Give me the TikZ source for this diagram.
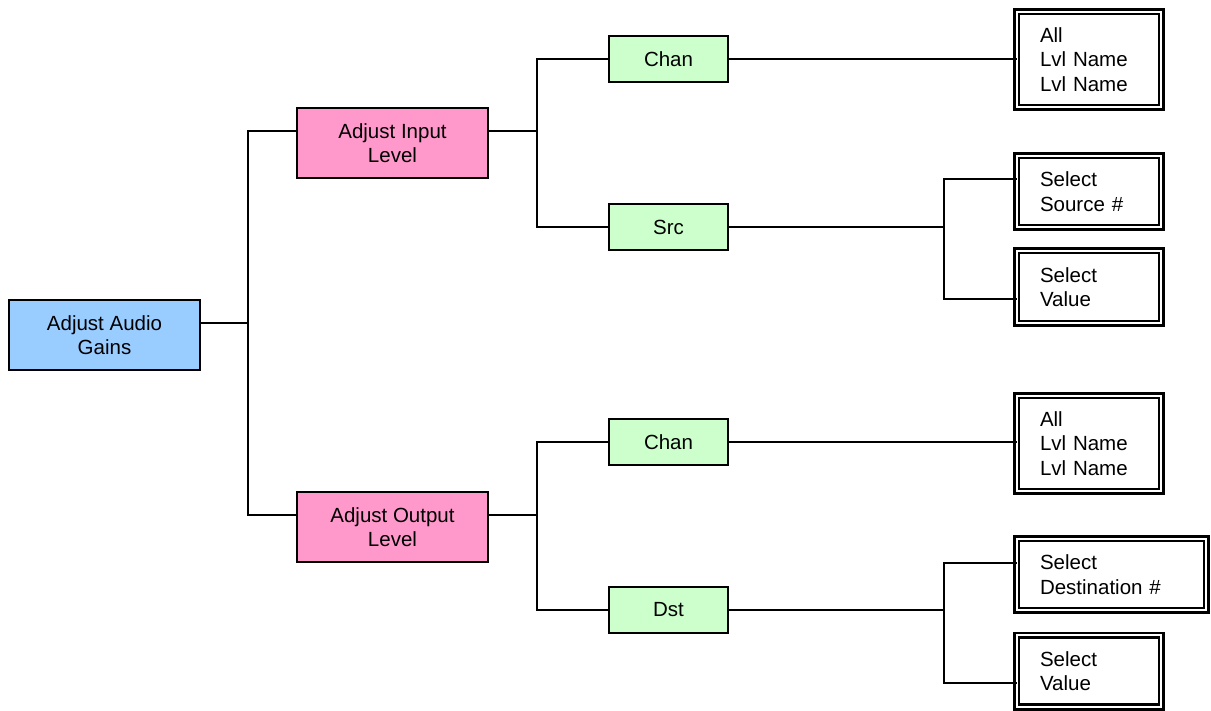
\documentclass[tikz,border=0pt]{standalone}
\usepackage{fontspec}
\setmainfont{Liberation Sans}
\definecolor{rootblue}{HTML}{99CCFF}
\definecolor{midpink}{HTML}{FF99CC}
\definecolor{leafgreen}{HTML}{CCFFCC}
\tikzset{
  base/.style={draw=black, line width=2pt, inner sep=2pt, outer sep=0pt,
    font=\fontsize{20.5}{23.5}\selectfont, align=center},
  rootbox/.style={base, fill=rootblue, minimum width=191pt, minimum height=70pt},
  pinkbox/.style={base, fill=midpink, minimum width=191pt, minimum height=70pt},
  greenbox/.style={base, fill=leafgreen, minimum width=119pt, minimum height=46pt},
  dbox/.style={draw=black, double=white, double distance=2pt, line width=2.7pt,
    outer sep=0pt, inner xsep=23.3pt, inner ysep=2pt, align=left,
    font=\fontsize{20.5}{24.5}\selectfont, minimum width=144.6pt, text width=98pt},
  conn/.style={line width=2pt, black}
}
\begin{document}
\begin{tikzpicture}[x=1pt,y=-1pt]
\useasboundingbox (0,0) rectangle (1211,710);
% nodes
\node[rootbox] (root) at (104.5,335) {Adjust Audio\\Gains};
\node[pinkbox] (p1) at (392.5,143) {Adjust Input\\Level};
\node[pinkbox] (p2) at (392.5,527) {Adjust Output\\Level};
\node[greenbox] (c1) at (668.5,59) {Chan};
\node[greenbox] (src) at (668.5,227) {Src};
\node[greenbox] (c2) at (668.5,442) {Chan};
\node[greenbox] (dst) at (668.5,610) {Dst};
\node[dbox, minimum height=95.6pt] (a1) at (1089,59.5) {All\\Lvl Name\\Lvl Name};
\node[dbox, minimum height=71.6pt] (ss) at (1089,191.5) {Select\\Source \#};
\node[dbox, minimum height=72.6pt] (v1) at (1089,287) {Select\\Value};
\node[dbox, minimum height=95.6pt] (a2) at (1089,443.5) {All\\Lvl Name\\Lvl Name};
\node[dbox, minimum height=71.6pt, minimum width=189.6pt, text width=143pt] (sd) at (1111.5,574.5) {Select\\Destination \#};
\node[dbox, minimum height=71.6pt] (v2) at (1089,671) {Select\\Value};
% junction points
\coordinate (j0) at (248,323);
\coordinate (j1) at (537,131);
\coordinate (j2) at (537,515);
\coordinate (j3) at (944,227);
\coordinate (j4) at (944,610);
% connectors
\draw[conn] ([yshift=12pt]root.east) -- (j0);
\draw[conn] ([yshift=12pt]p1.west) -| (j0) |- ([yshift=12pt]p2.west);
\draw[conn] ([yshift=12pt]p1.east) -- (j1);
\draw[conn] (c1.west) -| (j1) |- (src.west);
\draw[conn] ([yshift=12pt]p2.east) -- (j2);
\draw[conn] (c2.west) -| (j2) |- (dst.west);
\draw[conn] (c1.east) -- (a1.west |- c1.east);
\draw[conn] (c2.east) -- (a2.west |- c2.east);
\draw[conn] (src.east) -- (j3);
\draw[conn] ([yshift=12.5pt]ss.west) -| (j3) |- ([yshift=-12pt]v1.west);
\draw[conn] (dst.east) -- (j4);
\draw[conn] ([yshift=11.5pt]sd.west) -| (j4) |- ([yshift=-12pt]v2.west);
\end{tikzpicture}
\end{document}
